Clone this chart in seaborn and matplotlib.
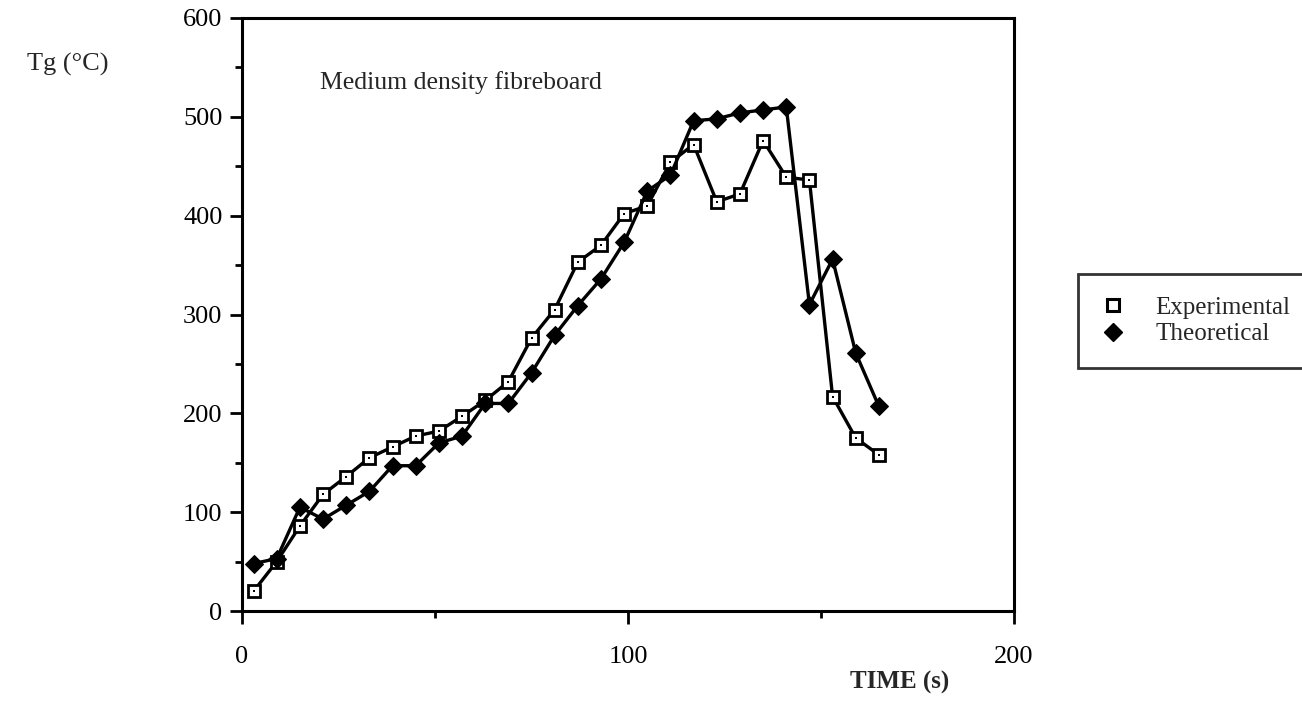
import numpy as np
import pandas as pd
import matplotlib
matplotlib.use("Agg")
import matplotlib.pyplot as plt
import seaborn as sns
from matplotlib.ticker import MultipleLocator
from matplotlib.lines import Line2D

# ---- data ----
time_s = [3, 9, 15, 21, 27, 33, 39, 45, 51, 57, 63, 69, 75, 81, 87, 93, 99,
          105, 111, 117, 123, 129, 135, 141, 147, 153, 159, 165]
experimental = [20, 50, 86, 118, 136, 155, 166, 177, 182, 197, 213, 232, 276,
                305, 353, 370, 402, 410, 454, 472, 414, 422, 476, 439, 436,
                217, 175, 158]
theoretical = [48, 53, 105, 93, 107, 121, 147, 147, 170, 177, 210, 210, 241,
               279, 309, 336, 373, 425, 441, 496, 498, 504, 507, 510, 310,
               356, 261, 207]
series_names = ["Experimental", "Theoretical"]
x_ticks = [0, 100, 200]
y_ticks = [0, 100, 200, 300, 400, 500, 600]

sns.set_style("ticks")
plt.rcParams["font.family"] = ["Liberation Serif", "DejaVu Serif"]

W, H = 1302, 718
fig = plt.figure(figsize=(W / 100, H / 100), dpi=100)
ax = fig.add_axes([242 / W, 1 - 611 / H, (1014 - 242) / W, (611 - 18) / H])

df_exp = pd.DataFrame({"t": time_s, "v": experimental})
df_th = pd.DataFrame({"t": time_s, "v": theoretical})

sns.lineplot(data=df_exp, x="t", y="v", ax=ax, color="black", lw=2.4,
             marker="s", markersize=8, markerfacecolor="white",
             markeredgecolor="black", markeredgewidth=2.0, zorder=3)
sns.lineplot(data=df_th, x="t", y="v", ax=ax, color="black", lw=2.4,
             marker="D", markersize=9, markerfacecolor="black",
             markeredgecolor="black", zorder=4)
# small dots inside the squares
sns.scatterplot(data=df_exp, x="t", y="v", ax=ax, color="black", s=3,
                marker="s", linewidth=0, zorder=5)

ax.set_xlim(0, 200)
ax.set_ylim(0, 600)
ax.set_xticks(x_ticks)
ax.set_yticks(y_ticks)
ax.xaxis.set_minor_locator(MultipleLocator(50))
ax.yaxis.set_minor_locator(MultipleLocator(50))
ax.set_xlabel("")
ax.set_ylabel("")

for sp in ax.spines.values():
    sp.set_visible(True)
    sp.set_color("black")
    sp.set_linewidth(2.2)

ax.tick_params(axis="both", which="major", direction="out", length=9,
               width=2, colors="black", labelsize=19)
ax.tick_params(axis="both", which="minor", direction="out", length=5,
               width=2, colors="black")
ax.tick_params(axis="x", which="major", pad=16)
ax.tick_params(axis="y", which="major", pad=5)

fig.text(27 / W, 1 - 64 / H, "Tg (°C)", fontsize=19, ha="left", va="center")
fig.text(320 / W, 1 - 83 / H, "Medium density fibreboard", fontsize=18.5,
         ha="left", va="center")
fig.text(900 / W, 1 - 682 / H, "TIME (s)", fontsize=18, fontweight="bold",
         ha="center", va="center")

handles = [
    Line2D([], [], ls="none", marker="s", markersize=8, markerfacecolor="white",
           markeredgecolor="black", markeredgewidth=2.2),
    Line2D([], [], ls="none", marker="D", markersize=9, color="black"),
]
leg = fig.legend(handles, series_names, loc="upper left",
                 bbox_to_anchor=(1078 / W, 1 - 274 / H), fontsize=18,
                 frameon=True, fancybox=False, shadow=False,
                 borderpad=0.9, handlelength=1.0, handletextpad=1.2,
                 labelspacing=0.15, borderaxespad=0)
leg.get_frame().set_edgecolor("black")
leg.get_frame().set_linewidth(2.0)

fig.savefig("out.png", dpi=100)
